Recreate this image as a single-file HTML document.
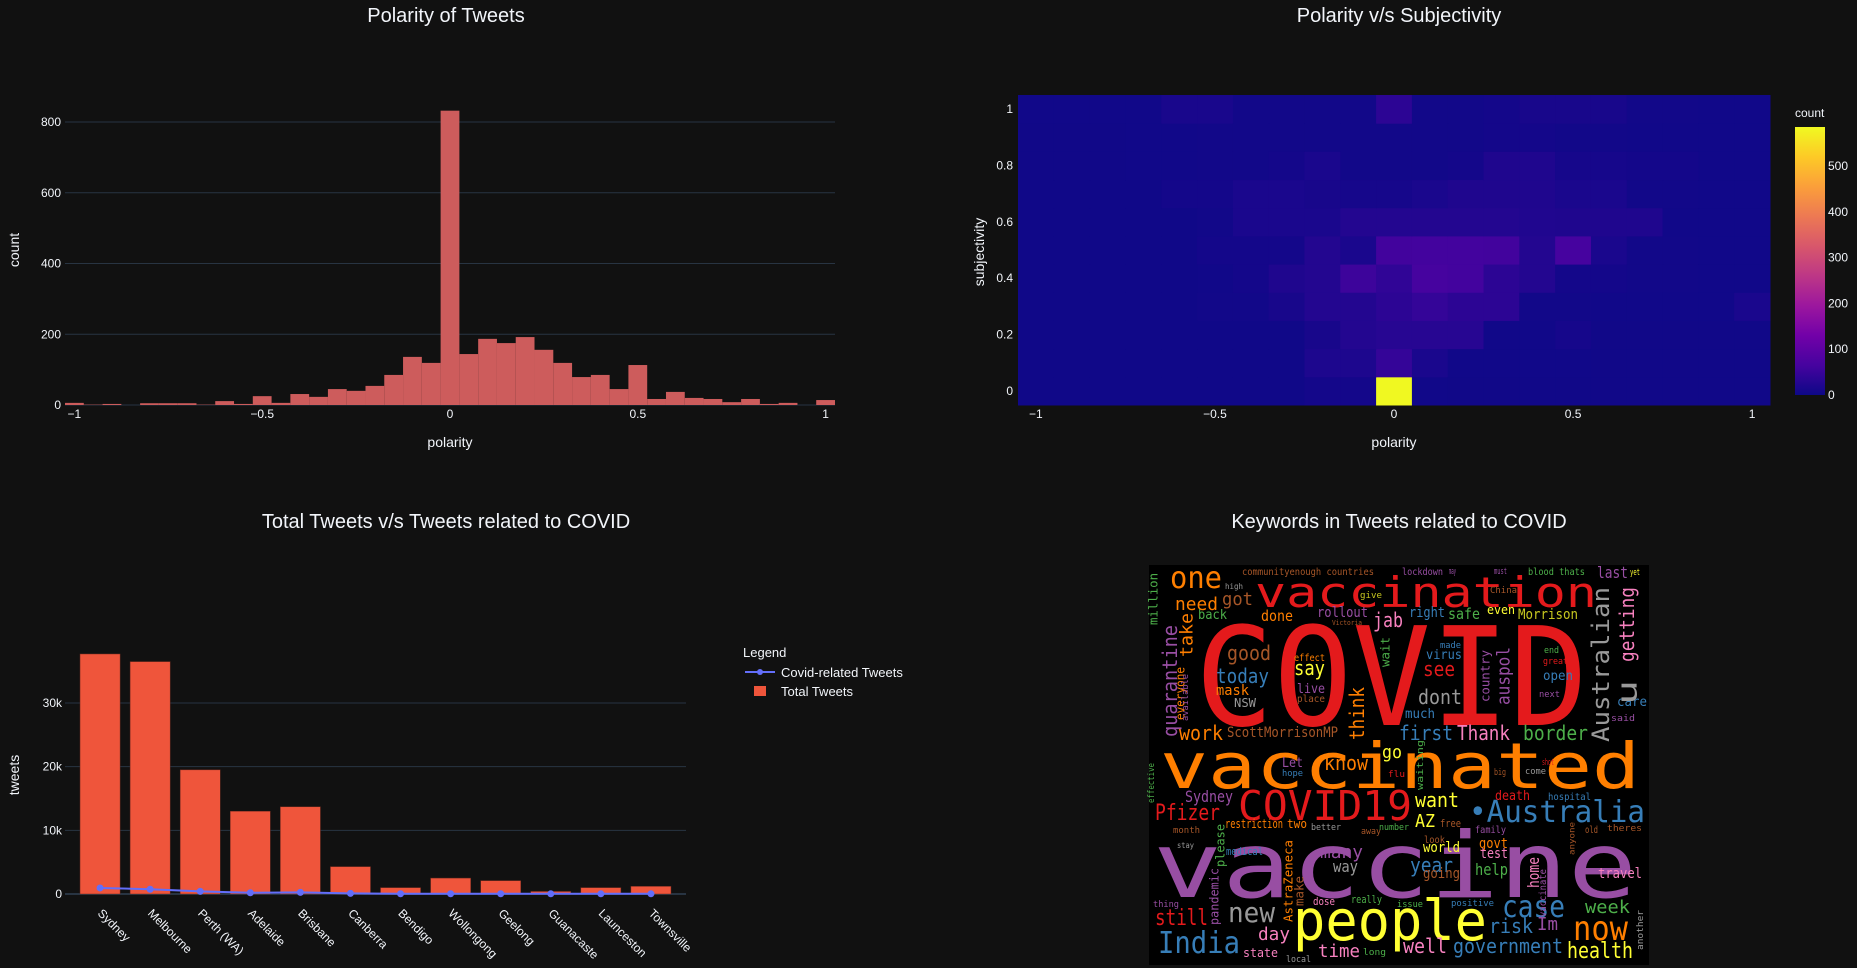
<!DOCTYPE html>
<html><head><meta charset="utf-8">
<style>
html,body{margin:0;padding:0;background:#111111;}
svg{display:block;}
text{font-family:"Liberation Sans",sans-serif;fill:#f2f5fa;}
.wc text{font-family:"DejaVu Sans Mono","Liberation Mono",monospace;}
</style></head>
<body>
<svg id="root" width="1857" height="968" viewBox="0 0 1857 968" xmlns="http://www.w3.org/2000/svg">
<rect x="0" y="0" width="1857" height="968" fill="#111111"/>
<text x="446" y="22" font-size="20" text-anchor="middle">Polarity of Tweets</text>
<text x="1399" y="22" font-size="20" text-anchor="middle">Polarity v/s Subjectivity</text>
<text x="446" y="528" font-size="20" text-anchor="middle">Total Tweets v/s Tweets related to COVID</text>
<text x="1399" y="528" font-size="20" text-anchor="middle">Keywords in Tweets related to COVID</text>
<g id="hist"></g>
<g id="heat"></g>
<g id="bars"></g>
<g id="wc" class="wc"></g>
</svg>
<script>
// ---------- Histogram data ----------
const histBinCenters = [-1,-0.95,-0.9,-0.85,-0.8,-0.75,-0.7,-0.65,-0.6,-0.55,-0.5,-0.45,-0.4,-0.35,-0.3,-0.25,-0.2,-0.15,-0.1,-0.05,0,0.05,0.1,0.15,0.2,0.25,0.3,0.35,0.4,0.45,0.5,0.55,0.6,0.65,0.7,0.75,0.8,0.85,0.9,0.95,1];
const histCounts = [6,1,3,0,5,5,5,1,11,3,25,6,31,23,45,40,54,85,136,119,832,144,187,175,192,156,119,79,85,45,113,17,37,20,17,8,17,3,6,0,14];
const histYTicks = [0,200,400,600,800];
const histXTicks = [-1,-0.5,0,0.5,1];
const histXTickLabels = ["−1","−0.5","0","0.5","1"];

// ---------- Heatmap data (rows: subjectivity 0..1, cols: polarity -1..1) ----------
const heatX = [-1,-0.9,-0.8,-0.7,-0.6,-0.5,-0.4,-0.3,-0.2,-0.1,0,0.1,0.2,0.3,0.4,0.5,0.6,0.7,0.8,0.9,1];
const heatY = [0,0.1,0.2,0.3,0.4,0.5,0.6,0.7,0.8,0.9,1];
const heatRow0 = [3,3,3,3,3,3,3,3,8,8,584,5,4,4,4,4,4,4,4,4,4];
const heatRow1 = [3,3,3,3,3,3,3,3,18,18,45,15,5,5,5,5,4,4,4,4,4];
const heatRow2 = [3,3,3,3,3,3,3,3,12,25,30,30,30,5,5,10,4,4,4,4,4];
const heatRow3 = [3,3,3,3,3,6,6,12,25,25,35,45,35,35,6,6,5,5,5,5,15];
const heatRow4 = [3,3,3,3,3,5,8,20,25,55,40,65,62,35,25,8,8,6,6,5,5];
const heatRow5 = [3,3,3,3,3,8,8,8,25,15,60,62,62,60,25,65,15,6,6,5,5];
const heatRow6 = [3,3,3,3,3,6,15,15,15,25,25,25,25,25,22,20,20,20,5,5,5];
const heatRow7 = [3,3,3,3,8,8,15,15,12,10,10,15,20,20,20,15,15,6,6,5,5];
const heatRow8 = [4,4,4,5,5,6,6,8,15,6,6,6,8,20,20,10,10,8,8,5,5];
const heatRow9 = [4,4,4,5,5,6,6,6,6,6,6,6,6,8,8,6,6,5,5,5,5];
const heatRow10 = [5,5,5,5,14,14,6,6,6,6,35,6,6,8,12,12,12,6,6,5,5];
const heatRows = [heatRow0,heatRow1,heatRow2,heatRow3,heatRow4,heatRow5,heatRow6,heatRow7,heatRow8,heatRow9,heatRow10];
const heatXTicks = [-1,-0.5,0,0.5,1];
const heatXTickLabels = ["−1","−0.5","0","0.5","1"];
const heatYTicks = [0,0.2,0.4,0.6,0.8,1];
const heatYTickLabels = ["0","0.2","0.4","0.6","0.8","1"];
const cbTicks = [0,100,200,300,400,500];

// ---------- Bar chart data ----------
const cities = ["Sydney","Melbourne","Perth (WA)","Adelaide","Brisbane","Canberra","Bendigo","Wollongong","Geelong","Guanacaste","Launceston","Townsville"];
const totalTweets = [37700,36500,19500,13000,13700,4300,1000,2500,2100,400,1000,1200];
const covidTweets = [950,750,420,200,250,100,40,40,40,30,30,30];
const barYTicks = [0,10000,20000,30000];
const barYTickLabels = ["0","10k","20k","30k"];

const NS="http://www.w3.org/2000/svg";
function mk(tag,attrs,parent,txt){const e=document.createElementNS(NS,tag);for(const k in attrs)e.setAttribute(k,attrs[k]);if(txt!==undefined)e.textContent=txt;parent.appendChild(e);return e;}

// ===== Histogram =====
(function(){
 const g=document.getElementById('hist');
 const L=65,R=835,x0=-1.025,x1=1.025;
 const yZero=405, pxPer=283/800;
 const xs=v=>L+(v-x0)/(x1-x0)*(R-L);
 const ys=v=>yZero-v*pxPer;
 histYTicks.forEach(t=>{
  const gl=mk('line',{x1:L,x2:R,y1:ys(t),y2:ys(t),stroke:'#283442','stroke-width':1},g);
  
  
  const tl=mk('text',{x:L-4,y:ys(t)+4,'font-size':12,'text-anchor':'end'},g,String(t));
  
  
 });
 const bw=0.05;
 histBinCenters.forEach((c,i)=>{
  const v=histCounts[i]; if(v<=0) return;
  const r=mk('rect',{x:xs(c-bw/2),y:ys(v),width:xs(c+bw/2)-xs(c-bw/2),height:ys(0)-ys(v),fill:'#cd5c5c'},g);
  
  
 });
 histXTicks.forEach((t,i)=>{
  const tl=mk('text',{x:xs(t),y:418,'font-size':12,'text-anchor':'middle'},g,histXTickLabels[i]);
  
  
 });
 const xt=mk('text',{x:450,y:447,'font-size':14,'text-anchor':'middle'},g,'polarity');
 
 
 const yt=mk('text',{x:0,y:0,'font-size':14,'text-anchor':'middle',transform:'translate(19,250) rotate(-90)'},g,'count');
 
 
})();

// ===== Heatmap =====
const plasma=[[13,8,135],[70,3,159],[114,1,168],[156,23,158],[189,55,134],[216,87,107],[237,121,83],[251,159,58],[253,202,38],[240,249,33]];
function plasmaColor(t){t=Math.max(0,Math.min(1,t));const p=t*(plasma.length-1);const i=Math.min(Math.floor(p),plasma.length-2);const f=p-i;const a=plasma[i],b=plasma[i+1];return 'rgb('+a.map((v,k)=>Math.round(v+(b[k]-v)*f)).join(',')+')';}
(function(){
 const g=document.getElementById('heat');
 const L=1018,R=1770,T=95,B=405;
 const xs=v=>L+(v+1.05)/2.1*(R-L);
 const ys=v=>B-(v+0.05)/1.1*(B-T);
 const zmax=585;
 heatRows.forEach((row,ri)=>{
  row.forEach((v,ci)=>{
   const cx=heatX[ci], cy=heatY[ri];
   const r=mk('rect',{x:xs(cx-0.05),y:ys(cy+0.05),width:xs(cx+0.05)-xs(cx-0.05)+0.5,height:ys(cy-0.05)-ys(cy+0.05)+0.5,fill:plasmaColor(v/zmax)},g);
   
   
  });
 });
 heatXTicks.forEach((t,i)=>{
  const tl=mk('text',{x:xs(t),y:418,'font-size':12,'text-anchor':'middle'},g,heatXTickLabels[i]);
  
  
 });
 heatYTicks.forEach((t,i)=>{
  const tl=mk('text',{x:1013,y:ys(t)+4,'font-size':12,'text-anchor':'end'},g,heatYTickLabels[i]);
  
  
 });
 const xt=mk('text',{x:1394,y:447,'font-size':14,'text-anchor':'middle'},g,'polarity');
 
 
 const yt=mk('text',{x:0,y:0,'font-size':14,'text-anchor':'middle',transform:'translate(984,252) rotate(-90)'},g,'subjectivity');
 
 
 // colorbar
 const defs=mk('defs',{},g);
 const lg=mk('linearGradient',{id:'cbg',x1:0,y1:1,x2:0,y2:0},defs);
 plasma.forEach((c,i)=>mk('stop',{offset:(i/(plasma.length-1)),'stop-color':'rgb('+c.join(',')+')'},lg));
 const cbT=127,cbB=395;
 const cb=mk('rect',{x:1795,y:cbT,width:30,height:cbB-cbT,fill:'url(#cbg)'},g);
 
 
 const cys=v=>cbB-v/zmax*(cbB-cbT);
 cbTicks.forEach(t=>{
  const tl=mk('text',{x:1828,y:cys(t)+4,'font-size':12},g,String(t));
  
  
 });
 const ct=mk('text',{x:1795,y:117,'font-size':12},g,'count');
 
 
})();

// ===== Bar chart =====
(function(){
 const g=document.getElementById('bars');
 const L=65,R=686,r0=-0.7,r1=11.7;
 const yZero=894, pxPer=191/30000;
 const xs=i=>L+(i-r0)/(r1-r0)*(R-L);
 const ys=v=>yZero-v*pxPer;
 barYTicks.forEach((t,i)=>{
  const gl=mk('line',{x1:L,x2:R,y1:ys(t),y2:ys(t),stroke:'#283442','stroke-width':t===0?2:1},g);
  
  
  const tl=mk('text',{x:L-3,y:ys(t)+4,'font-size':12,'text-anchor':'end'},g,barYTickLabels[i]);
  
  
 });
 const bw=(R-L)/(r1-r0)*0.8;
 cities.forEach((c,i)=>{
  const v=totalTweets[i];
  const r=mk('rect',{x:xs(i)-bw/2,y:ys(v),width:bw,height:ys(0)-ys(v),fill:'#ef553b',stroke:'#6b2a1f','stroke-width':0.5},g);
  
  
  const tl=mk('text',{x:0,y:0,'font-size':12,transform:'translate('+(xs(i)-3)+',914) rotate(45)'},g,c);
  
  
 });
 const pts=covidTweets.map((v,i)=>xs(i)+','+ys(v)).join(' ');
 const pl=mk('polyline',{points:pts,fill:'none',stroke:'#636efa','stroke-width':2},g);
 
 
 covidTweets.forEach((v,i)=>{
  const m=mk('circle',{cx:xs(i),cy:ys(v),r:3.5,fill:'#636efa'},g);
  
  
 });
 const yt=mk('text',{x:0,y:0,'font-size':14,'text-anchor':'middle',transform:'translate(19,775) rotate(-90)'},g,'tweets');
 
 
 // legend
 const lgG=mk('g',{},g);
 
 
 const lt=mk('text',{x:743,y:657,'font-size':13},lgG,'Legend');
 
 
 const e1=mk('g',{},lgG);
 
 
 mk('line',{x1:745,x2:775,y1:672,y2:672,stroke:'#636efa','stroke-width':2},e1);
 mk('circle',{cx:760,cy:672,r:3,fill:'#636efa'},e1);
 mk('text',{x:781,y:677,'font-size':13},e1,'Covid-related Tweets');
 const e2=mk('g',{},lgG);
 
 
 mk('rect',{x:754,y:686,width:12,height:10,fill:'#ef553b'},e2);
 mk('text',{x:781,y:696,'font-size':13},e2,'Total Tweets');
})();

// ===== Word cloud =====
const C={r:'#e41a1c',b:'#377eb8',g:'#4daf4a',p:'#984ea3',o:'#ff7f00',y:'#ffff33',br:'#a65628',pk:'#f781bf',gr:'#999999',ol:'#c8c820'};
// [word, x0, x1, baseline, size, colorKey]  (box coords)
const wcWords = [
 ["COVID",46,439,160,137,'r'],["vaccinated",11,491,223,63,'o'],["vaccine",4,488,332,91,'p'],
 ["vaccination",106,448,42,42,'r'],["people",144,338,375,56,'y'],["COVID19",89,263,255,41,'r'],
 ["•Australia",320,496,257,30,'b'],["one",21,73,23,30,'o'],["India",9,91,388,30,'b'],
 ["now",424,479,375,34,'o'],["case",353,416,352,30,'b'],["health",418,484,393,22,'y'],
 ["government",304,414,388,20,'b'],["new",79,126,357,28,'gr'],["still",6,59,360,22,'r'],
 ["need",26,69,45,18,'o'],["got",73,104,40,18,'br'],["back",49,78,54,13,'g'],["done",112,144,56,15,'o'],
 ["rollout",168,219,52,14,'p'],["jab",224,254,62,20,'pk'],["right",260,296,52,14,'b'],["safe",299,331,54,15,'g'],
 ["even",338,366,49,12,'y'],["Morrison",369,429,54,14,'ol'],["last",448,479,13,16,'p'],["good",78,122,95,20,'br'],
 ["today",67,120,118,20,'b'],["say",145,176,110,20,'y'],["mask",67,100,130,14,'o'],["live",148,176,128,13,'p'],
 ["see",274,306,111,20,'r'],["virus",277,313,94,13,'b'],["dont",269,313,139,20,'gr'],["much",256,286,153,13,'b'],
 ["first",250,304,175,20,'b'],["Thank",308,361,175,20,'pk'],["border",374,439,175,20,'g'],["work",30,74,175,20,'o'],
 ["ScottMorrisonMP",78,189,172,14,'br'],["open",394,424,115,13,'b'],["care",468,498,141,13,'b'],["go",233,253,193,18,'y'],
 ["know",175,219,205,20,'o'],["Let",133,154,202,13,'p'],["Sydney",36,84,237,16,'p'],["want",266,310,242,20,'y'],
 ["AZ",266,286,262,18,'y'],["Pfizer",6,71,255,22,'r'],["death",346,381,235,13,'r'],["restriction",76,134,263,12,'o'],
 ["two",138,158,263,12,'o'],["many",171,214,293,18,'p'],["way",184,209,307,16,'gr'],["year",261,304,307,20,'b'],
 ["world",274,311,287,14,'y'],["going",274,311,313,14,'br'],["govt",330,359,283,14,'o'],["test",331,359,293,14,'pk'],
 ["help",326,359,310,16,'g'],["travel",449,493,313,14,'pk'],["week",436,481,348,18,'g'],["risk",340,384,368,20,'b'],
 ["Im",388,409,365,18,'p'],["day",109,141,375,18,'pk'],["well",254,298,388,20,'pk'],["time",169,211,392,18,'pk'],
 ["state",94,129,392,12,'pk'],["dose",164,186,340,11,'pk'],["really",202,233,338,11,'g'],["medical",77,114,290,11,'b'],
 ["NSW",85,107,142,12,'gr'],["effect",145,176,96,10,'o'],["place",148,176,137,10,'br'],["hospital",399,442,235,10,'b'],
 ["free",291,312,262,11,'br'],["family",326,357,268,10,'p'],["old",436,449,268,10,'br'],["look",275,296,278,10,'br'],
 ["communityenough countries",93,225,10,10,'br'],["lockdown",253,294,10,10,'p'],["may",300,307,9,9,'p'],
 ["must",345,358,9,9,'p'],["blood thats",379,436,10,10,'g'],["yet",481,491,10,9,'y'],["China",341,368,28,9,'br'],
 ["give",211,233,33,9,'ol'],["high",76,94,24,8,'gr'],["Victoria",183,213,60,7,'br'],["made",291,312,83,9,'b'],
 ["end",395,410,88,9,'g'],["great",394,419,99,9,'r'],["next",390,411,132,9,'p'],["said",462,486,156,9,'p'],
 ["shot",393,405,200,9,'r'],["come",376,397,209,9,'gr'],["hope",133,154,211,9,'b'],["flu",239,256,212,9,'r'],
 ["month",24,51,268,9,'br'],["better",162,192,265,9,'gr'],["away",212,232,269,9,'br'],["number",230,260,265,9,'g'],
 ["positive",302,345,341,9,'b'],["issue",248,274,342,9,'g'],["long",214,237,390,9,'g'],["local",137,162,397,9,'gr'],
 ["stay",28,45,283,8,'gr'],["thing",4,30,342,9,'p'],["big",345,357,210,9,'br'],["theres",458,493,266,9,'br']
];
// vertical words: [word, xRight(baseline), yBottom, length, size, colorKey]
const wcVertical = [
 ["quarantine",32,172,112,20,'p'],["take",47,92,44,18,'o'],["think",219,175,53,20,'o'],["auspol",364,140,58,18,'p'],
 ["getting",489,97,75,20,'pk'],["Australian",465,177,155,24,'gr'],["AstraZeneca",146,357,82,12,'o'],["home",393,323,31,16,'pk'],
 ["please",78,302,43,12,'g'],["pandemic",72,360,57,12,'p'],["everyone",38,155,53,12,'o'],["million",11,60,52,12,'g'],
 ["country",343,137,52,12,'p'],["wait",243,102,30,12,'g'],["make",157,341,30,12,'br'],["vaccinate",399,352,48,10,'p'],
 ["available",41,156,47,9,'p'],["waiting",276,225,50,9,'g'],["effective",7,238,40,9,'g'],["anyone",427,290,33,8,'br'],
 ["another",496,385,40,9,'gr'],["u",493,140,25,28,'gr']
];
(function(){
 const g=document.getElementById('wc');
 const BX=1149,BY=565;
 const bg=mk('rect',{x:BX,y:BY,width:500,height:400,fill:'#000'},g);
 
 
 wcWords.forEach(w=>{
  const t=mk('text',{x:BX+w[1],y:BY+w[3],'font-size':w[4],textLength:w[2]-w[1],lengthAdjust:'spacingAndGlyphs',style:'fill:'+C[w[5]]},g,w[0]);
  
  
 });
 wcVertical.forEach(w=>{
  const t=mk('text',{x:0,y:0,'font-size':w[4],textLength:w[3],lengthAdjust:'spacingAndGlyphs',style:'fill:'+C[w[5]],transform:'translate('+(BX+w[1]-w[4]*0.2)+','+(BY+w[2])+') rotate(-90)'},g,w[0]);
  
  
 });
})();
</script>
</body></html>
